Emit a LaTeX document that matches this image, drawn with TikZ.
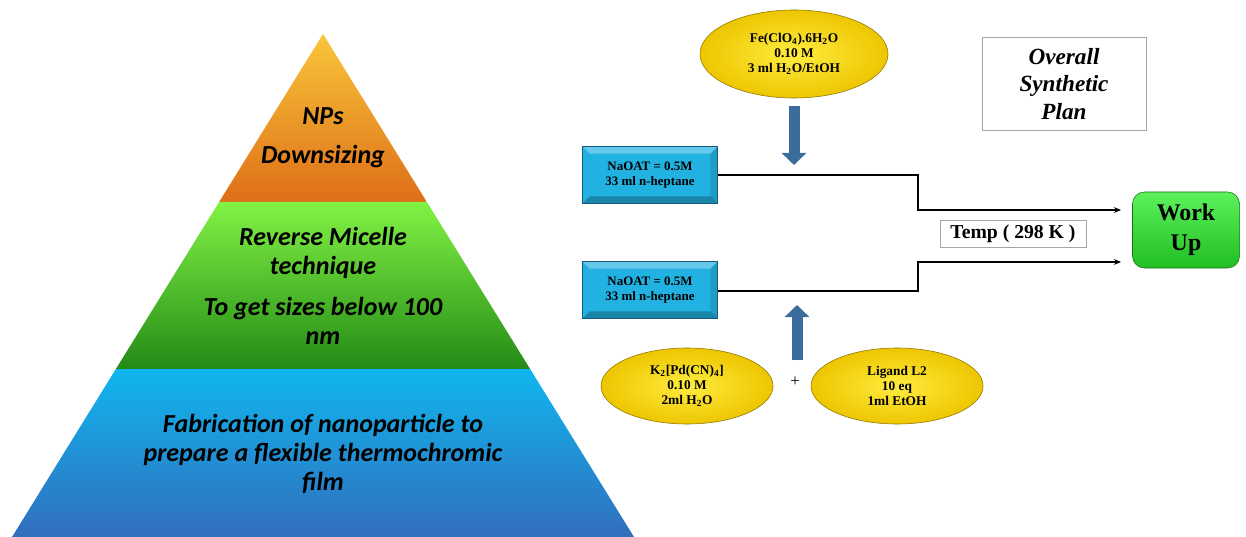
\documentclass[tikz,border=0pt]{standalone}
\usepackage{fontspec}
\setmainfont{Liberation Serif}
\newfontfamily\pyrfont{Carlito}
\usepackage{tikz}
\usetikzlibrary{positioning, shapes.geometric, arrows.meta}

\definecolor{orgtop}{HTML}{F9C63A}
\definecolor{orgbot}{HTML}{DE6E18}
\definecolor{grntop}{HTML}{82F244}
\definecolor{grnbot}{HTML}{238A16}
\definecolor{blutop}{HTML}{10B6EE}
\definecolor{blubot}{HTML}{316EBD}
\definecolor{goldin}{HTML}{FFEC40}
\definecolor{goldout}{HTML}{EDC600}
\definecolor{naocyan}{HTML}{22B2E2}
\definecolor{naodark}{HTML}{17597E}
\definecolor{arrblue}{HTML}{3B6C9C}
\definecolor{wkin}{HTML}{5CF25C}
\definecolor{wkout}{HTML}{22BE22}

\tikzset{
  pyrtext/.style={font=\pyrfont\bfseries\itshape\fontsize{18.5}{20.5}\selectfont, align=center},
  sol/.style={ellipse, shading=radial, inner color=goldin, outer color=goldout, draw=goldout!60!black, thin,
    align=center, font=\bfseries\fontsize{9.5}{10.5}\selectfont, inner sep=0pt},
  naoat/.style={rectangle, fill=naocyan, draw=naodark, line width=0.8pt, align=center,
    minimum width=3.375cm, minimum height=1.425cm, font=\bfseries\fontsize{9.2}{10.6}\selectfont,
    path picture={
      \fill[white, opacity=0.3] (path picture bounding box.north west) -- (path picture bounding box.north east)
        -- ([xshift=-5pt, yshift=-5pt]path picture bounding box.north east) -- ([xshift=5pt, yshift=-5pt]path picture bounding box.north west) -- cycle;
      \fill[black, opacity=0.25] (path picture bounding box.south west) -- (path picture bounding box.south east)
        -- ([xshift=-5pt, yshift=5pt]path picture bounding box.south east) -- ([xshift=5pt, yshift=5pt]path picture bounding box.south west) -- cycle;
      \fill[black, opacity=0.12] (path picture bounding box.north east) -- (path picture bounding box.south east)
        -- ([xshift=-5pt, yshift=5pt]path picture bounding box.south east) -- ([xshift=-5pt, yshift=-5pt]path picture bounding box.north east) -- cycle;
    }},
  flow/.style={thick, -{Stealth[length=5pt, width=4pt]}},
  blkarrow/.style={line width=0.275cm, draw=arrblue, -{Triangle[width=0.6cm, length=0.3cm]}},
  plainbox/.style={rectangle, draw=gray!70, fill=white, align=center}
}

\begin{document}
\begin{tikzpicture}[x=0.025cm, y=-0.025cm]
    \useasboundingbox (0,0) rectangle (1246,537);

    % Draw pyramid layers
    \foreach \ya/\yb/\ctop/\cbot in {34/202/orgtop/orgbot, 202/369/grntop/grnbot, 369/537/blutop/blubot} {
      \pgfmathsetmacro\wa{(\ya-34)*0.6183}
      \pgfmathsetmacro\wb{(\yb-34)*0.6183}
      \shade[top color=\ctop, bottom color=\cbot] (323-\wa,\ya) -- (323+\wa,\ya) -- (323+\wb,\yb) -- (323-\wb,\yb) -- cycle;
    }

    % Pyramid labels
    \node[pyrtext] (nps) at (323,116) {NPs};
    \node[pyrtext] (down) at (323,157) {Downsizing};
    \node[pyrtext] (rev) at (323,253) {Reverse Micelle\\technique};
    \node[pyrtext] (size) at (323,321) {To get sizes below 100\\nm};
    \node[pyrtext] (fab) at (323,454) {Fabrication of nanoparticle to\\prepare a flexible thermochromic\\film};

    % Reagents
    \node[sol, minimum width=4.7cm, minimum height=2.2cm] (fe) at (794,54)
      {Fe(ClO\textsubscript{4}).6H\textsubscript{2}O\\0.10 M\\3 ml H\textsubscript{2}O/EtOH};
    \node[sol, minimum width=4.3cm, minimum height=1.9cm] (pd) at (687,386)
      {K\textsubscript{2}[Pd(CN)\textsubscript{4}]\\0.10 M\\2ml H\textsubscript{2}O};
    \node[sol, minimum width=4.3cm, minimum height=1.9cm] (lig) at (897,386)
      {Ligand L2\\10 eq\\1ml EtOH};
    \node[font=\large] (plus) at (795,382) {+};

    % Micelle solutions
    \node[naoat] (na1) at (650,175) {NaOAT = 0.5M\\33 ml n-heptane};
    \node[naoat] (na2) at (650,290) {NaOAT = 0.5M\\33 ml n-heptane};

    % Work up and labels
    \node[rectangle, rounded corners=0.3cm, top color=wkin, bottom color=wkout, draw=wkout!60!black,
      minimum width=2.675cm, minimum height=1.9cm, align=center,
      font=\bfseries\fontsize{17}{21}\selectfont] (wk) at (1186,230) {Work\\Up};
    \node[plainbox, minimum width=3.65cm, minimum height=0.625cm,
      font=\bfseries\fontsize{14}{16}\selectfont] (temp) at (1013,234) {Temp ( 298 K )};
    \node[plainbox, minimum width=4.1cm, minimum height=2.325cm,
      font=\bfseries\itshape\fontsize{16.5}{19.6}\selectfont] (plan) at (1064,84) {Overall\\Synthetic\\Plan};

    % Flow lines
    \coordinate (inA) at (794,175);
    \coordinate (inB) at (797,291);
    \coordinate (mix) at (797,360);
    \coordinate (t1) at (1121,210);
    \coordinate (t2) at (1121,262);
    \draw[flow] (na1.east) -| (918,210) -- (t1);
    \draw[flow] (na2.east |- inB) -| (918,262) -- (t2);

    % Block arrows
    \draw[blkarrow, shorten <=0.2cm, shorten >=0.25cm] (fe.south) -- (inA);
    \draw[blkarrow, shorten >=0.35cm] (mix) -- (inB);
\end{tikzpicture}
\end{document}
